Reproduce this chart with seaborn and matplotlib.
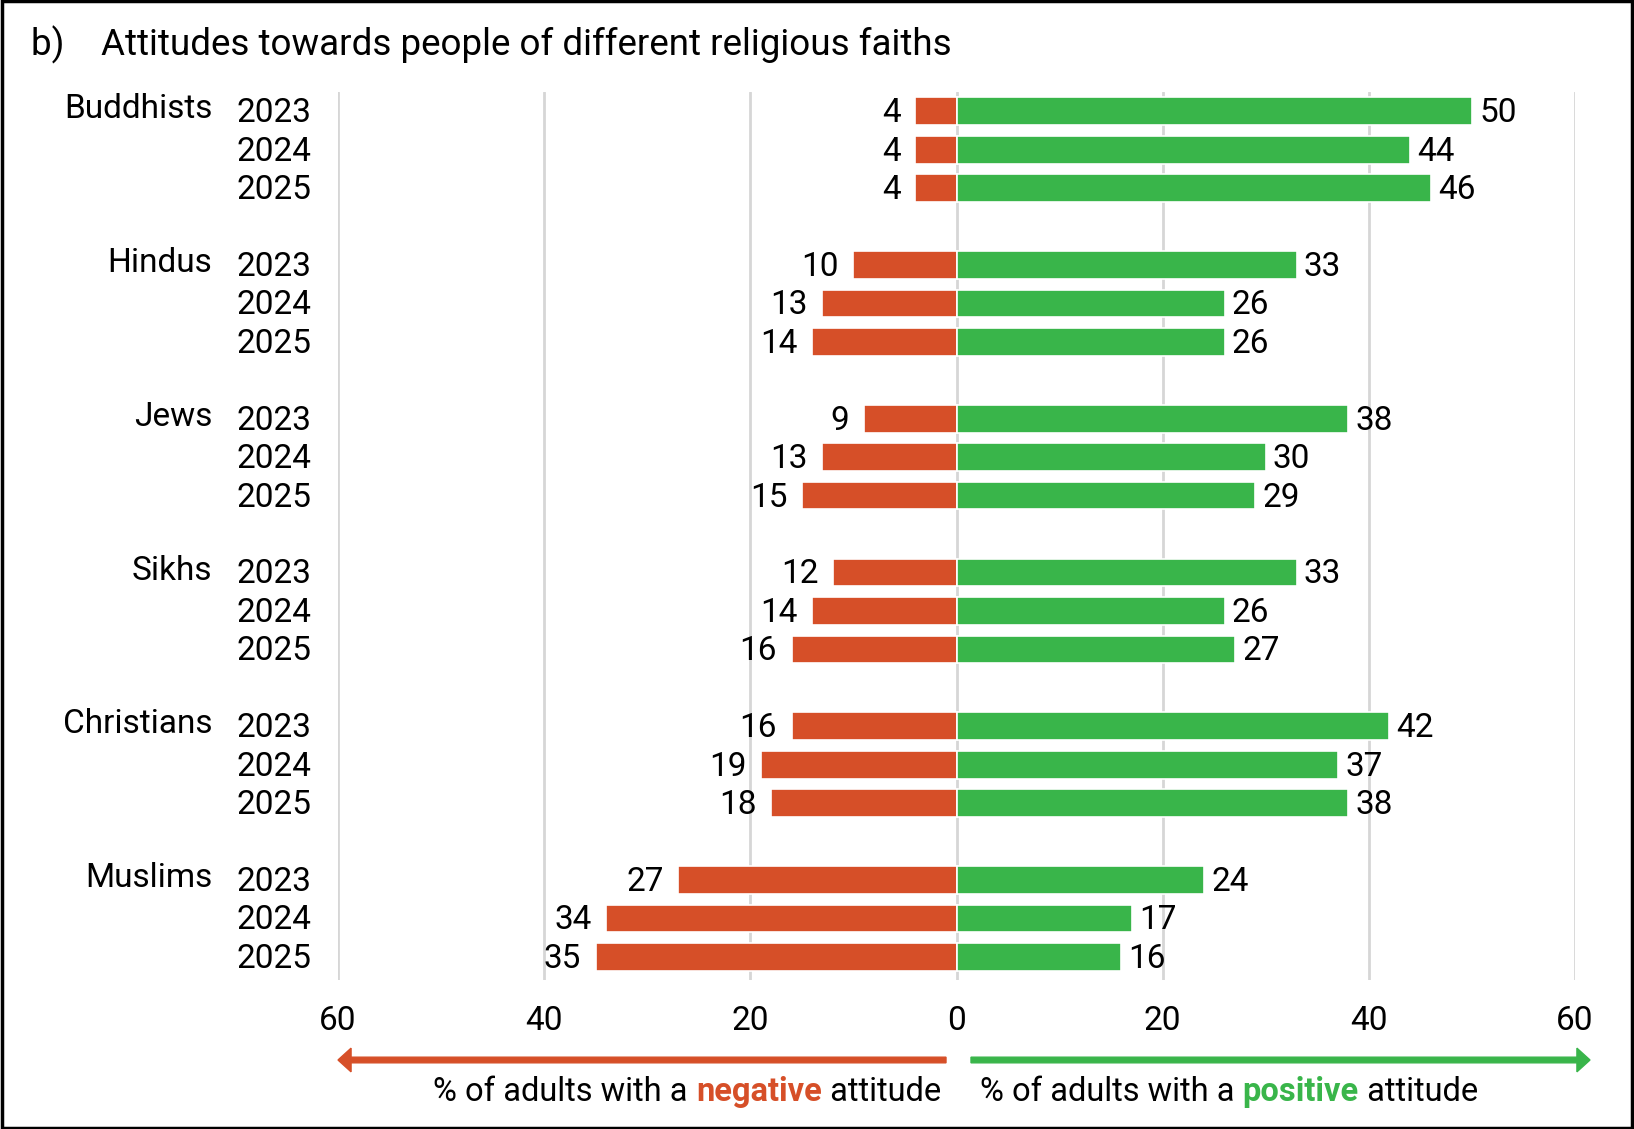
import numpy as np
import pandas as pd
import matplotlib.pyplot as plt
import matplotlib.patches as mpatches
import seaborn as sns

groups = ['Buddhists', 'Hindus', 'Jews', 'Sikhs', 'Christians', 'Muslims']
years = ['2023', '2024', '2025']
negative = [4, 4, 4, 10, 13, 14, 9, 13, 15, 12, 14, 16, 16, 19, 18, 27, 34, 35]
positive = [50, 44, 46, 33, 26, 26, 38, 30, 29, 33, 26, 27, 42, 37, 38, 24, 17, 16]
ticks = [-60, -40, -20, 0, 20, 40, 60]

RED = '#D64F28'
GREEN = '#39B54A'
W, H = 1634, 1129
FS = 24

rows = []
for g, grp in enumerate(groups):
    for i, yr in enumerate(years):
        k = g * 3 + i
        rows.append({'group': grp, 'year': yr, 'pos': g * 4 + i,
                     'neg': -negative[k], 'posv': positive[k]})
df = pd.DataFrame(rows)

sns.set_theme(style='white')
plt.rcParams['font.family'] = ['Roboto', 'DejaVu Sans']
plt.rcParams['text.color'] = 'black'
plt.rcParams['xtick.color'] = 'black'
plt.rcParams['xtick.labelcolor'] = 'black'

fig = plt.figure(figsize=(W / 100, H / 100), dpi=100)
ax = fig.add_axes([338 / W, 1 - 980 / H, (1575 - 338) / W, (980 - 92) / H])

sns.barplot(data=df, x='neg', y='pos', orient='h', native_scale=True, color=RED,
            width=0.72, edgecolor='white', linewidth=1.2, saturation=1, ax=ax)
sns.barplot(data=df, x='posv', y='pos', orient='h', native_scale=True, color=GREEN,
            width=0.72, edgecolor='white', linewidth=1.2, saturation=1, ax=ax)

ax.set_xlim(-60, 60)
ax.set_ylim(22.6, -0.5)
ax.set_xticks(ticks)
ax.set_xticklabels([str(abs(t)) for t in ticks], fontsize=FS, color='black')
ax.tick_params(axis='x', length=0, pad=18)
ax.set_yticks([])
ax.set_xlabel('')
ax.set_ylabel('')
for s in ax.spines.values():
    s.set_visible(False)
for xv in ticks:
    ax.axvline(xv, color='#D6D6D6', lw=2, zorder=0)

for _, r in df.iterrows():
    ax.text(r['neg'] - 1.4, r['pos'] + 0.05, str(-r['neg']), ha='right', va='center',
            fontsize=FS, color='black')
    ax.text(r['posv'] + 0.7, r['pos'] + 0.05, str(r['posv']), ha='left', va='center',
            fontsize=FS, color='black')
    ax.text(-62.6, r['pos'] + 0.05, r['year'], ha='right', va='center', fontsize=FS,
            clip_on=False)
for g, grp in enumerate(groups):
    ax.text(-72.2, g * 4 - 0.05, grp, ha='right', va='center', fontsize=FS, clip_on=False)

fig.text(31 / W, 1 - 45 / H, 'b)    Attitudes towards people of different religious faiths',
         fontsize=26.5, va='center', ha='left')

# direction arrows
ay = 1 - 1060 / H
fig.patches.append(mpatches.FancyArrow(
    946 / W, ay, -(946 - 338) / W, 0, width=0.005, head_width=0.021,
    head_length=0.008, length_includes_head=True, color=RED, transform=fig.transFigure))
fig.patches.append(mpatches.FancyArrow(
    971 / W, ay, (1590 - 971) / W, 0, width=0.005, head_width=0.021,
    head_length=0.008, length_includes_head=True, color=GREEN, transform=fig.transFigure))

ty = 1 - 1092 / H
fig.canvas.draw()
rend = fig.canvas.get_renderer()


def place_left(parts, x_right):
    x = x_right
    for txt, col, w in reversed(parts):
        t = fig.text(x, ty, txt, ha='right', va='center', fontsize=23.5, color=col, fontweight=w)
        x -= t.get_window_extent(renderer=rend).width / fig.bbox.width


def place_right(parts, x_left):
    x = x_left
    for txt, col, w in parts:
        t = fig.text(x, ty, txt, ha='left', va='center', fontsize=23.5, color=col, fontweight=w)
        x += t.get_window_extent(renderer=rend).width / fig.bbox.width


place_left([('% of adults with a ', 'black', 'normal'), ('negative', RED, 'bold'),
            (' attitude', 'black', 'normal')], 941 / W)
place_right([('% of adults with a ', 'black', 'normal'), ('positive', GREEN, 'bold'),
             (' attitude', 'black', 'normal')], 980 / W)

fig.patches.append(plt.Rectangle((0.001, 0.001), 0.998, 0.998, fill=False, ec='black',
                                 lw=2.5, transform=fig.transFigure))

fig.savefig('out.png', dpi=100)
